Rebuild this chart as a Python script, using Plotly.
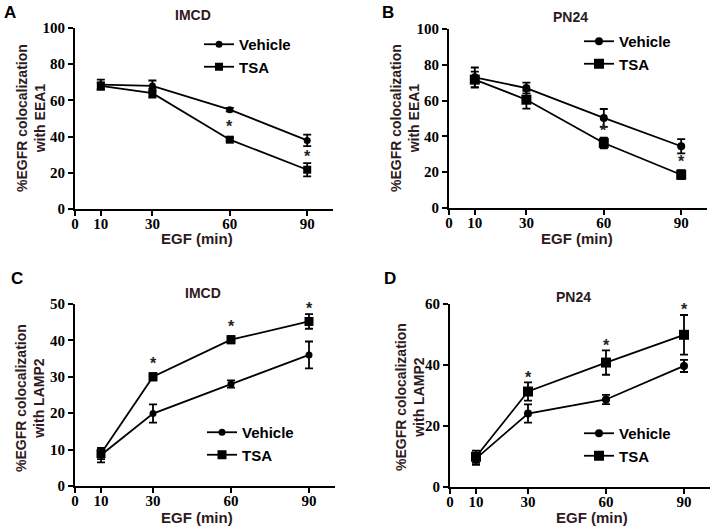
import plotly.graph_objects as go

# ---------------- data ----------------
time_points = [10, 30, 60, 90]
x_tick_vals = [0, 10, 30, 60, 90]
series_names = ["Vehicle", "TSA"]

# Panel A: IMCD, EEA1
a_vehicle = [68.7, 68.0, 54.9, 37.9]
a_vehicle_err = [2.8, 3.0, 1.0, 3.2]
a_tsa = [68.0, 64.0, 38.3, 21.7]
a_tsa_err = [2.0, 2.5, 1.0, 3.7]
a_sig = [60, 90]
a_y_ticks = [0, 20, 40, 60, 80, 100]

# Panel B: PN24, EEA1
b_vehicle = [73.0, 67.0, 50.3, 34.5]
b_vehicle_err = [5.5, 3.0, 5.0, 4.0]
b_tsa = [71.7, 60.5, 36.3, 18.6]
b_tsa_err = [4.5, 5.0, 3.0, 2.5]
b_sig = [60, 90]
b_y_ticks = [0, 20, 40, 60, 80, 100]

# Panel C: IMCD, LAMP2
c_vehicle = [8.5, 19.9, 28.0, 36.0]
c_vehicle_err = [2.0, 2.5, 1.0, 3.7]
c_tsa = [8.9, 30.0, 40.2, 45.2]
c_tsa_err = [1.5, 1.0, 1.0, 2.0]
c_sig = [30, 60, 90]
c_y_ticks = [0, 10, 20, 30, 40, 50]

# Panel D: PN24, LAMP2
d_vehicle = [9.3, 24.1, 28.7, 39.7]
d_vehicle_err = [2.0, 3.0, 1.5, 2.0]
d_tsa = [9.9, 31.3, 40.8, 49.9]
d_tsa_err = [2.0, 3.0, 4.0, 6.5]
d_sig = [30, 60, 90]
d_y_ticks = [0, 20, 40, 60]

# ---------------- layout helpers ----------------
W, H = 716, 527
TXT = "#2e1a20"
SANS = "Liberation Sans"
SERIF = "Liberation Serif"


def fx(p):
    return p / W


def fy(p):
    return 1 - p / H


panels = [
    dict(letter="A", title="IMCD", ytitle="%EGFR colocalization<br>with EEA1",
         veh=a_vehicle, veh_err=a_vehicle_err, tsa=a_tsa, tsa_err=a_tsa_err,
         sig=a_sig, yticks=a_y_ticks,
         xdom=(75, 333), ydom=(209, 28),
         letter_pos=(10, 13), title_pos=(193, 15), ytitle_pos=(31, 118), xtitle_pos=(197, 238),
         legend_pos=(199, 28), msize=(7, 8)),
    dict(letter="B", title="PN24", ytitle="%EGFR colocalization<br>with EEA1",
         veh=b_vehicle, veh_err=b_vehicle_err, tsa=b_tsa, tsa_err=b_tsa_err,
         sig=b_sig, yticks=b_y_ticks,
         xdom=(449, 707), ydom=(208, 29),
         letter_pos=(388, 12), title_pos=(570, 17), ytitle_pos=(405, 118), xtitle_pos=(577, 238),
         legend_pos=(579, 25), msize=(8, 10)),
    dict(letter="C", title="IMCD", ytitle="%EGFR colocalization<br>with LAMP2",
         veh=c_vehicle, veh_err=c_vehicle_err, tsa=c_tsa, tsa_err=c_tsa_err,
         sig=c_sig, yticks=c_y_ticks,
         xdom=(75, 335), ydom=(486, 304),
         letter_pos=(17, 278), title_pos=(203, 293), ytitle_pos=(30, 398), xtitle_pos=(197, 517),
         legend_pos=(202, 416), msize=(7, 9)),
    dict(letter="D", title="PN24", ytitle="%EGFR colocalization<br>with LAMP2",
         veh=d_vehicle, veh_err=d_vehicle_err, tsa=d_tsa, tsa_err=d_tsa_err,
         sig=d_sig, yticks=d_y_ticks,
         xdom=(450, 710), ydom=(487, 304),
         letter_pos=(390, 278), title_pos=(573, 297), ytitle_pos=(410, 397), xtitle_pos=(592, 517),
         legend_pos=(579, 417), msize=(8, 10)),
]

fig = go.Figure()
annotations = []
layout_extra = {}


def paper_text(text, pos, size, color, angle=0):
    return dict(text=text, x=fx(pos[0]), y=fy(pos[1]), xref="paper", yref="paper",
                xanchor="center", yanchor="middle", showarrow=False, textangle=angle,
                font=dict(family=SANS, size=size, color=color, weight="bold"))


for i, p in enumerate(panels):
    n = i + 1
    sfx = "" if n == 1 else str(n)
    xref, yref = "x" + sfx, "y" + sfx
    leg = "legend" + sfx

    for name, vals, errs, sym, ms in [
        ("Vehicle", p["veh"], p["veh_err"], "circle", p["msize"][0]),
        ("TSA", p["tsa"], p["tsa_err"], "square", p["msize"][1]),
    ]:
        fig.add_trace(go.Scatter(
            x=time_points, y=vals, name=name, mode="lines+markers",
            xaxis=xref, yaxis=yref, legend=leg, legendgroup=f"{n}{name}",
            line=dict(color="black", width=1.8),
            marker=dict(symbol=sym, size=ms, color="black"),
            error_y=dict(type="data", array=errs, visible=True,
                         color="black", thickness=1.8, width=4),
        ))

    ymax = p["yticks"][-1]
    tick_font = dict(family=SERIF, size=15, color="black", weight="bold")
    axis_common = dict(showline=True, linecolor="black", linewidth=1.8,
                       ticks="outside", ticklen=5, tickwidth=1.5, tickcolor="black",
                       showgrid=False, zeroline=False, tickfont=tick_font, tickmode="array",
                       automargin=False)
    layout_extra["xaxis" + sfx] = dict(
        domain=[fx(p["xdom"][0]), fx(p["xdom"][1])], range=[0, 100], anchor=yref,
        tickvals=x_tick_vals, ticktext=[f"<b>{v}</b>" for v in x_tick_vals],
        ticklabelstandoff=-5, **axis_common)
    layout_extra["yaxis" + sfx] = dict(
        domain=[fy(p["ydom"][0]), fy(p["ydom"][1])], range=[0, ymax], anchor=xref,
        tickvals=p["yticks"], ticktext=[f"<b>{v}</b>" for v in p["yticks"]], **axis_common)
    layout_extra[leg] = dict(
        x=fx(p["legend_pos"][0]), y=fy(p["legend_pos"][1]),
        xanchor="left", yanchor="top", bgcolor="rgba(0,0,0,0)",
        font=dict(family=SANS, size=15, color="black", weight="bold"),
        itemwidth=30, tracegroupgap=2, traceorder="normal",
    )

    annotations.append(paper_text(p["letter"], p["letter_pos"], 17, "black"))
    annotations.append(paper_text(p["title"], p["title_pos"], 14, TXT))
    annotations.append(paper_text(p["ytitle"], p["ytitle_pos"], 14, TXT, angle=-90))
    annotations.append(paper_text("EGF (min)", p["xtitle_pos"], 15, TXT))

    # significance asterisks above the TSA error bars
    px_per_unit = (p["ydom"][0] - p["ydom"][1]) / ymax
    for t in p["sig"]:
        k = time_points.index(t)
        err_px = p["tsa_err"][k] * px_per_unit
        shift = max(8, 16 - err_px) - 3
        annotations.append(dict(text="*", x=t, y=p["tsa"][k] + p["tsa_err"][k],
                                xref=xref, yref=yref, showarrow=False,
                                xanchor="center", yanchor="middle", yshift=shift,
                                font=dict(family=SANS, size=16, color="#222", weight="bold")))

fig.update_layout(
    width=W, height=H, margin=dict(l=0, r=0, t=0, b=0, pad=0, autoexpand=False),
    paper_bgcolor="white", plot_bgcolor="white",
    annotations=annotations, showlegend=True,
    **layout_extra,
)

fig.write_html("out.html", config={"displayModeBar": False},
               post_script="document.body.style.margin='0';document.body.style.padding='0';")
